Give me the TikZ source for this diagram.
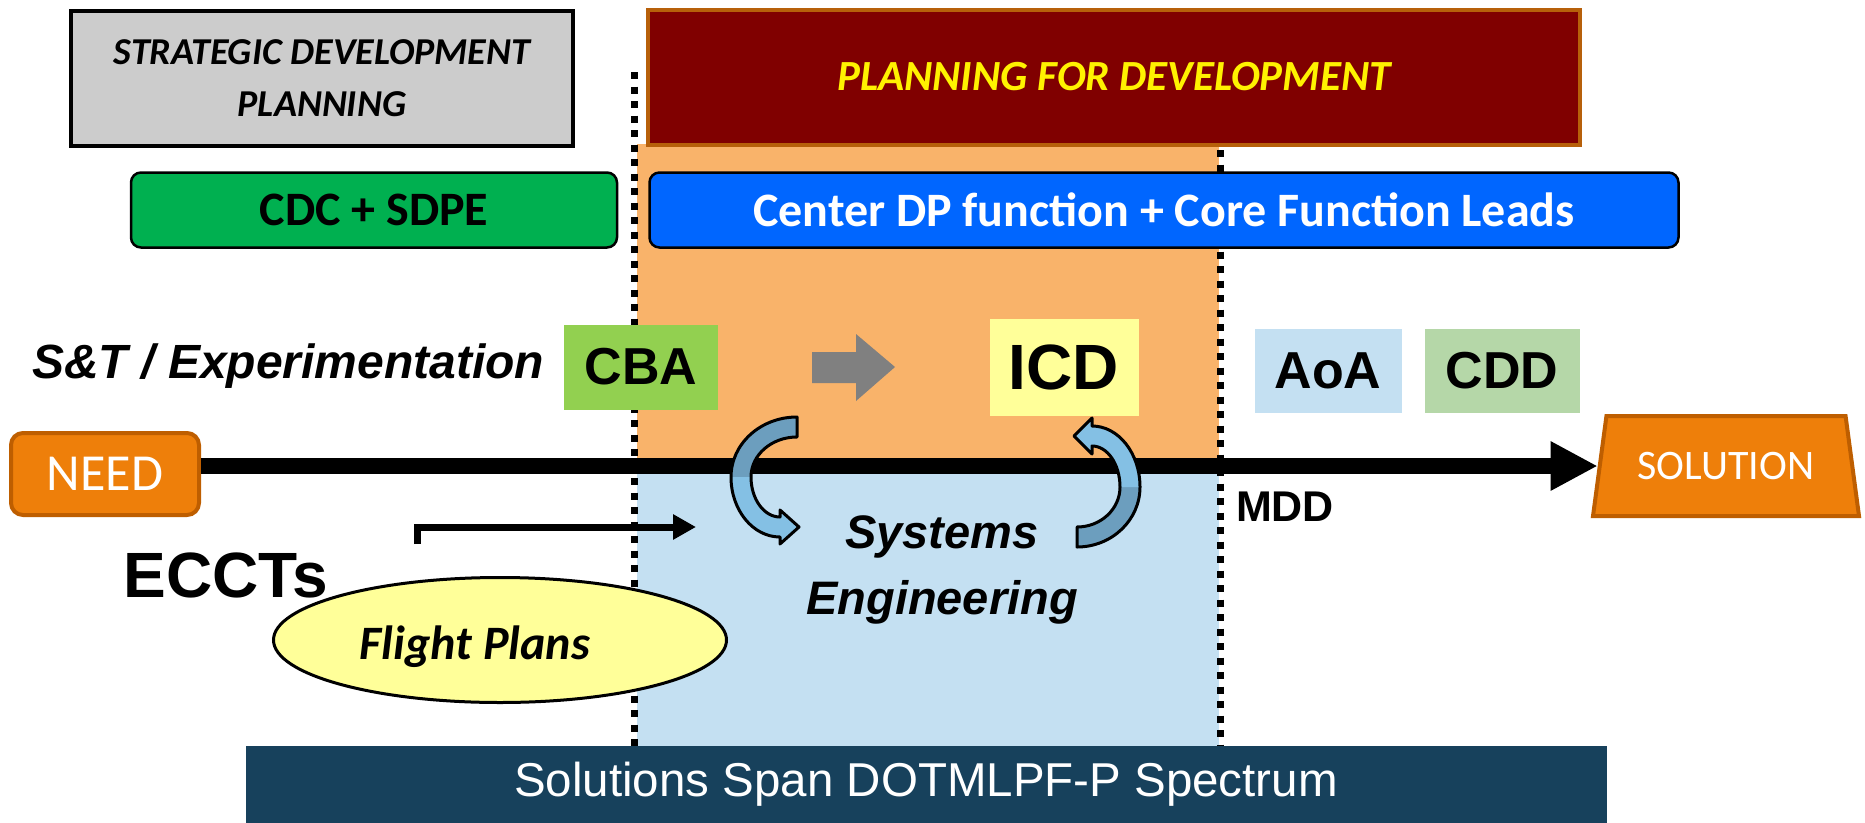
\documentclass[tikz,border=0pt]{standalone}
\usepackage{fontspec}
\setmainfont{Liberation Sans}
\newfontfamily\calibri{Carlito}
\usetikzlibrary{shapes.geometric,arrows.meta,positioning}

\definecolor{sdpgray}{RGB}{204,204,204}
\definecolor{cdcgreen}{RGB}{0,176,80}
\definecolor{pfdred}{RGB}{128,0,0}
\definecolor{pfdrim}{RGB}{183,96,10}
\definecolor{cdpblue}{RGB}{0,102,255}
\definecolor{zoneorange}{RGB}{249,179,106}
\definecolor{zoneblue}{RGB}{196,224,242}
\definecolor{cbagreen}{RGB}{146,208,80}
\definecolor{icdyellow}{RGB}{255,255,153}
\definecolor{cddgreen}{RGB}{181,215,168}
\definecolor{needorange}{RGB}{238,127,10}
\definecolor{needrim}{RGB}{190,94,0}
\definecolor{spanteal}{RGB}{23,65,92}
\definecolor{loopdark}{RGB}{108,158,190}
\definecolor{looplight}{RGB}{132,192,228}

\tikzset{
	flatbox/.style={rectangle,inner sep=0pt,minimum width=#1},
	roundbox/.style={rectangle,rounded corners=10pt,draw=black,line width=2.5pt,inner sep=0pt,minimum height=75pt,text=white,font=\calibri\bfseries\fontsize{48}{54}\selectfont},
	doclabel/.style={flatbox=#1,minimum height=84pt,font=\bfseries\fontsize{52}{60}\selectfont},
	endbox/.style={fill=needorange,draw=needrim,line width=4pt,text=white,inner sep=0pt,font=\calibri\fontsize{52}{60}\selectfont},
	dotline/.style={line width=7pt,dash pattern=on 7pt off 7.5pt},
	loopedge/.style={draw=black,line width=3pt,line join=round}
}

\begin{document}
\begin{tikzpicture}[x=1pt,y=-1pt]
	\useasboundingbox (0,0) rectangle (1865,822);

	\fill[zoneorange] (637,144) rectangle (1219,467);
	\fill[zoneblue] (637,467) rectangle (1219,746);
	\draw[dotline] (634,72) -- (634,746);
	\draw[dotline] (1220,150) -- (1220,746);

	\node[flatbox=502pt,minimum height=135pt,fill=sdpgray,draw=black,line width=4pt,align=center,font=\calibri\bfseries\itshape\fontsize{38}{52}\selectfont] (sdp) at (322,78) {STRATEGIC DEVELOPMENT\\PLANNING};
	\node[flatbox=932pt,minimum height=135pt,fill=pfdred,draw=pfdrim,line width=4pt,text=yellow,font=\calibri\bfseries\itshape\fontsize{43}{50}\selectfont] (pfd) at (1114,77) {PLANNING FOR DEVELOPMENT};
	\node[roundbox,minimum width=486pt,fill=cdcgreen,text=black] (cdc) at (374,210) {CDC + SDPE};
	\node[roundbox,minimum width=1029pt,fill=cdpblue] (cdp) at (1164,210) {Center DP function + Core Function Leads};

	\node[anchor=west,inner sep=0pt,font=\bfseries\itshape\fontsize{48}{56}\selectfont] (st) at (32,366) {S\&T / Experimentation};
	\node[doclabel=154pt,minimum height=85pt,fill=cbagreen] (cba) at (641,367) {CBA};
	\node[doclabel=149pt,minimum height=97pt,fill=icdyellow,font=\bfseries\fontsize{64}{70}\selectfont] (icd) at (1064,367) {ICD};
	\node[doclabel=147pt,fill=zoneblue] (aoa) at (1328,371) {AoA};
	\node[doclabel=155pt,fill=cddgreen] (cdd) at (1502,371) {CDD};
	\fill[gray] (812,352) -- (856,352) -- (856,334) -- (895,367) -- (856,401) -- (856,383) -- (812,383) -- cycle;

	\node[endbox,rounded corners=12pt,minimum width=188pt,minimum height=82pt] (need) at (105,474) {NEED};
	\node[endbox,trapezium,trapezium left angle=64,trapezium right angle=64,trapezium stretches body=true,minimum width=266pt,minimum height=100pt,font=\calibri\fontsize{42}{50}\selectfont] (sol) at (1726,466) {SOLUTION};
	\draw[line width=16pt,-{Triangle[length=47pt,width=46pt]}] (need.east |- sol.west) -- (sol.west);
	\node[font=\bfseries\fontsize{43}{48}\selectfont] (mdd) at (1285,507) {MDD};

	\fill[loopdark] (797,417) .. controls (760.5,417) and (731,443.9) .. (731,477) -- (751,477) .. controls (751,454.9) and (771.6,437) .. (797,437) -- cycle;
	\fill[looplight] (731,477) .. controls (731,510.1) and (752.9,537) .. (780,537) -- (780,544) -- (799,527) -- (780,510) -- (780,517) .. controls (764,517) and (751,499.1) .. (751,477) -- cycle;
	\draw[loopedge] (797,417) .. controls (760.5,417) and (731,443.9) .. (731,477) .. controls (731,510.1) and (752.9,537) .. (780,537) -- (780,544) -- (799,527) -- (780,510) -- (780,517) .. controls (764,517) and (751,499.1) .. (751,477) .. controls (751,454.9) and (771.6,437) .. (797,437) -- cycle;
	\fill[loopdark] (1077,547) .. controls (1111.8,547) and (1140,520.1) .. (1140,487) -- (1120,487) .. controls (1120,509.1) and (1100.7,527) .. (1077,527) -- cycle;
	\fill[looplight] (1140,487) .. controls (1140,453.3) and (1118.5,426) .. (1092,426) -- (1092,418) -- (1074,436) -- (1092,454) -- (1092,446) .. controls (1107.5,446) and (1120,464.4) .. (1120,487) -- cycle;
	\draw[loopedge] (1077,547) .. controls (1111.8,547) and (1140,520.1) .. (1140,487) .. controls (1140,453.3) and (1118.5,426) .. (1092,426) -- (1092,418) -- (1074,436) -- (1092,454) -- (1092,446) .. controls (1107.5,446) and (1120,464.4) .. (1120,487) .. controls (1120,509.1) and (1100.7,527) .. (1077,527) -- cycle;
	\node[align=center,font=\bfseries\itshape\fontsize{47}{66}\selectfont] (syseng) at (942,570) {Systems\\Engineering};

	\node[font=\bfseries\fontsize{64}{70}\selectfont] (eccts) at (226,575) {ECCTs};
	\coordinate (ecctsfrom) at (417,544);
	\coordinate (ecctsto) at (696,527);
	\draw[line width=7pt,-{Triangle[length=23pt,width=24pt]}] (ecctsfrom) |- (ecctsto);
	\node[ellipse,fill=icdyellow,draw=black,line width=3pt,minimum width=453pt,minimum height=125pt] (fp) at (500,640) {};
	\node[font=\calibri\bfseries\itshape\fontsize{48}{54}\selectfont] (fptext) at (475,647) {Flight Plans};

	\node[flatbox=1361pt,minimum height=77pt,fill=spanteal,text=white,font=\fontsize{47.5}{54}\selectfont] (span) at (926,784) {Solutions Span DOTMLPF-P Spectrum};
\end{tikzpicture}
\end{document}
